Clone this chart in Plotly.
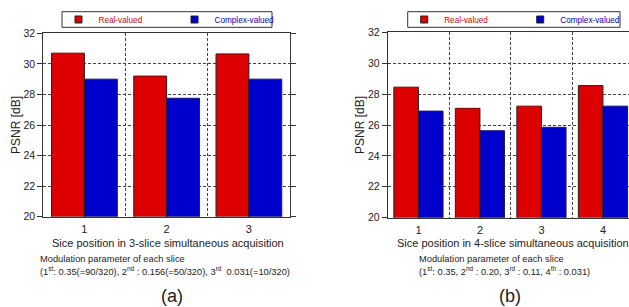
import plotly.graph_objects as go

# ---- data ----
cats_a = [1, 2, 3]
real_a = [30.7, 29.2, 30.65]
complex_a = [29.0, 27.75, 29.0]

cats_b = [1, 2, 3, 4]
real_b = [28.45, 27.08, 27.22, 28.55]
complex_b = [26.9, 25.63, 25.85, 27.22]

y_ticks = [20, 22, 24, 26, 28, 30, 32]
series_names = ["Real-valued", "Complex-valued"]
red = "#dd0000"
blue = "#0000cc"

W, H = 629, 307
FONT = "Liberation Sans, Arial, sans-serif"

fig = go.Figure()

PAD = "&nbsp;" * 12

def add_panel(cats, real, cplx, xa, ya, legend):
    fig.add_trace(go.Bar(x=cats, y=real, marker=dict(color=red, line=dict(color="#222", width=1)),
                         xaxis=xa, yaxis=ya, showlegend=False))
    fig.add_trace(go.Bar(x=cats, y=cplx, marker=dict(color=blue, line=dict(color="#222", width=1)),
                         xaxis=xa, yaxis=ya, showlegend=False))
    for i, (nm, col) in enumerate(zip(series_names, [red, blue])):
        label = f"<span style='color:{col}'>{nm}</span>" + (PAD if i == 0 else "")
        fig.add_trace(go.Scatter(x=[None], y=[None], mode="markers", xaxis=xa, yaxis=ya,
                                 name=label,
                                 marker=dict(symbol="square", size=7, color=col,
                                             line=dict(color="#222", width=1)),
                                 legend=legend))

add_panel(cats_a, real_a, complex_a, "x", "y", "legend")
add_panel(cats_b, real_b, complex_b, "x2", "y2", "legend2")

def px_x(p):
    return p / W

def px_y(p):
    return 1 - p / H

grid = dict(color="#444", dash="3px,2px")

def xaxis(dom, cats, rng):
    return dict(domain=dom, range=rng, tickmode="array", tickvals=cats,
                ticktext=[str(c) for c in cats], showgrid=False, zeroline=False,
                showline=True, linecolor="#333", linewidth=1, mirror=True, ticks="",
                automargin=False, ticklabelstandoff=2,
                tickfont=dict(size=11, family=FONT, color="#222"),
                minor=dict(tick0=0.5, dtick=1, showgrid=True, gridcolor=grid["color"],
                           griddash=grid["dash"], gridwidth=1, ticks=""))

def yaxis(dom, anchor):
    return dict(domain=dom, anchor=anchor, range=[20, 32], tickvals=y_ticks,
                showgrid=True, gridcolor=grid["color"], griddash=grid["dash"], gridwidth=1,
                zeroline=False, showline=True, linecolor="#333", linewidth=1, mirror="ticks",
                ticks="outside", ticklen=5, tickcolor="#333", automargin=False,
                tickfont=dict(size=10.5, family=FONT, color="#222"),
                title=dict(text="PSNR [dB]", font=dict(size=12, family=FONT, color="#222"),
                           standoff=0))

xa_dom = [px_x(43.3), px_x(290)]
xb_dom = [px_x(387.7), 1.0]
cat_w_b = 61.5
xb_rng = [0.5, 0.5 + (W - 387.7) / cat_w_b]

leg = dict(orientation="h", xanchor="left", yanchor="middle",
           borderwidth=0, bgcolor="rgba(0,0,0,0)", itemwidth=30,
           font=dict(size=8.2, family=FONT))

legend_boxes = [(62, 272), (407.7, 620)]

fig.update_layout(
    width=W, height=H, margin=dict(l=0, r=0, t=0, b=0, autoexpand=False),
    paper_bgcolor="white", plot_bgcolor="white",
    barmode="group", bargap=0.2, bargroupgap=0,
    font=dict(family=FONT, color="#222"),
    xaxis=xaxis(xa_dom, cats_a, [0.5, 3.5]) | dict(anchor="y"),
    yaxis=yaxis([px_y(216.7), px_y(33.3)], "x"),
    xaxis2=xaxis(xb_dom, cats_b, xb_rng) | dict(anchor="y2"),
    yaxis2=yaxis([px_y(217.7), px_y(32.3)], "x2"),
    legend=leg | dict(x=px_x(legend_boxes[0][0] - 3.5), y=px_y(19.5)),
    legend2=leg | dict(x=px_x(legend_boxes[1][0] - 3.5), y=px_y(19.5)),
    shapes=[dict(type="rect", xref="paper", yref="paper", layer="below",
                 x0=px_x(a), x1=px_x(b), y0=px_y(27.3), y1=px_y(11.7),
                 line=dict(color="#333", width=1), fillcolor="white")
            for a, b in legend_boxes],
)

ann = []
def text(x, y, s, size, xanchor="center"):
    ann.append(dict(x=px_x(x), y=px_y(y), xref="paper", yref="paper", text=s, showarrow=False,
                    xanchor=xanchor, yanchor="middle", font=dict(size=size, family=FONT, color="#222")))

text(168, 243, "Sice position in 3-slice simultaneous acquisition", 11)
text(37.5, 259, "Modulation parameter of each slice", 9.3, "left")
text(37.5, 271, "(1<sup>st</sup>: 0.35(=90/320), 2<sup>nd</sup> : 0.156(=50/320), 3<sup>rd</sup> &nbsp;0.031(=10/320)", 9.3, "left")
text(172, 296, "(a)", 18)

text(513, 243, "Sice position in 4-slice simultaneous acquisition", 11)
text(417, 259, "Modulation parameter of each slice", 9.3, "left")
text(417, 271, "(1<sup>st</sup>: 0.35, 2<sup>nd</sup> : 0.20, 3<sup>rd</sup> : 0.11, 4<sup>th</sup> : 0.031)", 9.3, "left")
text(510, 296, "(b)", 18)

fig.update_layout(annotations=ann)
fig.write_html("out.html", config={"displayModeBar": False},
               post_script="document.body.style.margin='0px';")
